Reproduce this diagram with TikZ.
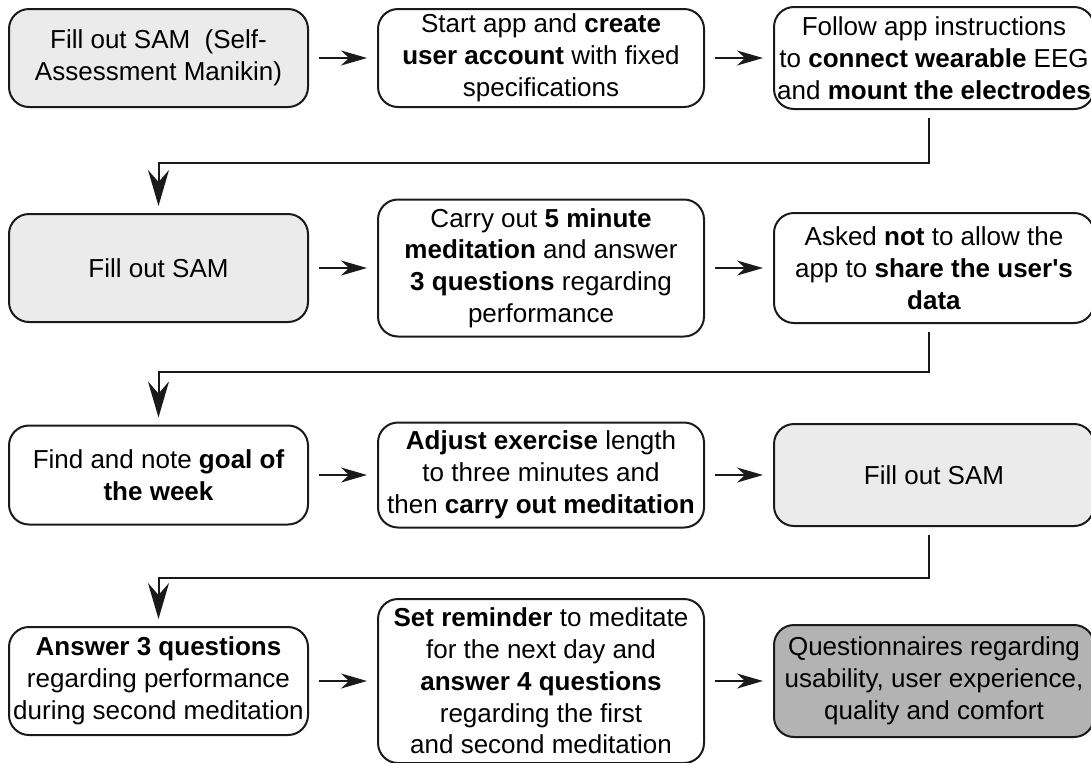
\documentclass[tikz,border=0pt]{standalone}
\usepackage{fontspec}
\setmainfont{Liberation Sans}
\usepackage{tikz}
\usetikzlibrary{arrows.meta,positioning,calc}
\definecolor{ink}{HTML}{1A1A1A}
\definecolor{samgrey}{HTML}{EBEBEB}
\definecolor{endgrey}{HTML}{B3B3B3}

\begin{document}
\begin{tikzpicture}[node distance=7mm and 34pt,
 stepbox/.style={draw=ink,line width=1pt,rounded corners=10pt,align=center,inner xsep=1pt,inner ysep=0.5pt,font=\fontsize{13}{15.9}\selectfont},
 colA/.style={stepbox,minimum width=149.5pt},
 colB/.style={stepbox,minimum width=163pt},
 colC/.style={stepbox,minimum width=160pt},
 flow/.style={draw=ink,line width=1pt,-{Stealth[length=13pt,width=7.5pt,inset=4pt]},shorten <=5pt,shorten >=5pt},
 turn/.style={draw=ink,line width=1pt,-{Stealth[length=18pt,width=10.5pt,inset=6pt]},shorten <=4pt,shorten >=3.5pt}]
 \useasboundingbox (0,0) rectangle (545.5pt,-381pt);
 % row 1
 \node[colA,fill=samgrey,minimum height=49pt] (sam1) at (79.25pt,-29pt) {Fill out SAM\ \ (Self-\\Assessment Manikin)};
 \node[colB,minimum height=49pt,right=of sam1] (account) {Start app and \textbf{create}\\\textbf{user account} with fixed\\specifications};
 \node[colC,minimum height=51pt,right=of account] (mount) {Follow app instructions\\to \textbf{connect wearable} EEG\\and \textbf{mount the electrodes}};
 % row 2
 \node[colA,fill=samgrey,minimum height=54pt] (sam2) at (79.25pt,-134pt) {Fill out SAM};
 \node[colB,minimum height=68.5pt,right=of sam2] (medit) {Carry out \textbf{5 minute}\\\textbf{meditation} and answer\\\textbf{3 questions} regarding\\performance};
 \node[colC,minimum height=55pt,right=of medit] (share) {Asked \textbf{not} to allow the\\app to \textbf{share the user\textquotesingle s}\\\textbf{data}};
 % row 3
 \node[colA,minimum height=49.5pt] (goal) at (79.25pt,-237.5pt) {Find and note \textbf{goal of}\\\textbf{the week}};
 \node[colB,minimum height=52.5pt,right=of goal] (adjust) {\textbf{Adjust exercise} length\\to three minutes and\\then \textbf{carry out meditation}};
 \node[colC,fill=samgrey,minimum height=51pt,right=of adjust] (sam3) {Fill out SAM};
 % row 4
 \node[colA,minimum height=54pt] (answer) at (79.25pt,-340.5pt) {\textbf{Answer 3 questions}\\regarding performance\\during second meditation};
 \node[colB,minimum height=82pt,right=of answer] (remind) {\textbf{Set reminder} to meditate\\for the next day and\\\textbf{answer 4 questions}\\regarding the first\\and second meditation};
 \node[colC,fill=endgrey,minimum height=56pt,right=of remind] (quest) {Questionnaires regarding\\usability, user experience,\\quality and comfort};

 \foreach \a/\b in {sam1/account,account/mount,sam2/medit,medit/share,goal/adjust,adjust/sam3,answer/remind,remind/quest}
  \draw[flow] (\a) -- (\b);
 \foreach \a/\b in {mount/sam2,share/goal,sam3/answer}
  \draw[turn] ([xshift=-2.5pt]\a.south) |- ($(\a)!.5!(\b)$) -| (\b.north);
\end{tikzpicture}
\end{document}
